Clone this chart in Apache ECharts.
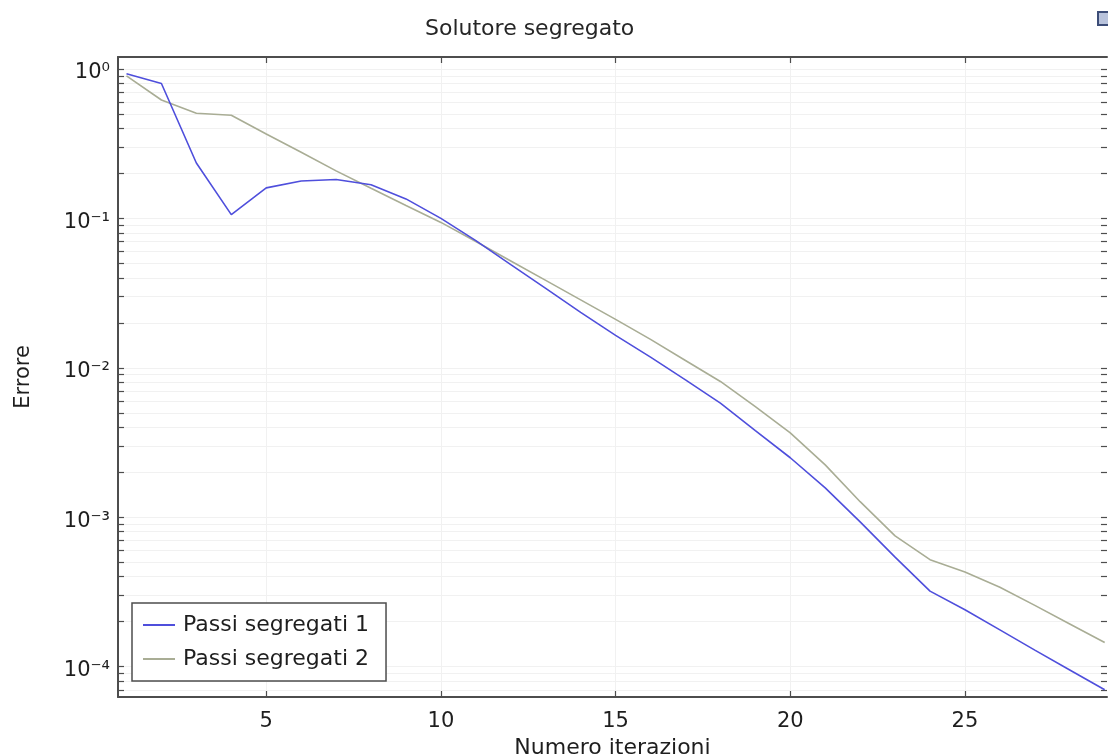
<!DOCTYPE html>
<html>
<head>
<meta charset="utf-8">
<script src="https://cdn.jsdelivr.net/npm/echarts@6/dist/echarts.min.js"></script>
<style>
  html, body { margin: 0; padding: 0; background: #ffffff; }
  #chart { width: 1108px; height: 754px; }
</style>
</head>
<body>
<div id="chart"></div>
<script>
// Iteration index of the segregated solver
const iterations = [1, 2, 3, 4, 5, 6, 7, 8, 9, 10, 11, 12, 13, 14, 15, 16, 17, 18, 19, 20, 21, 22, 23, 24, 25, 26, 27, 28, 29];

// Error per iteration, segregated step group 1
const passi1 = [0.93, 0.80, 0.235, 0.106, 0.16, 0.178, 0.182, 0.168, 0.135, 0.100, 0.071, 0.049, 0.034, 0.0235, 0.0165, 0.0118, 0.0083, 0.0058, 0.0038, 0.0025, 0.00157, 0.00093, 0.00054, 0.00032, 0.00024, 0.000176, 0.000129, 0.000095, 0.00007];

// Error per iteration, segregated step group 2
const passi2 = [0.90, 0.62, 0.505, 0.49, 0.367, 0.277, 0.208, 0.159, 0.122, 0.094, 0.070, 0.0519, 0.0385, 0.0285, 0.0211, 0.0155, 0.0112, 0.0081, 0.0055, 0.00367, 0.00224, 0.00127, 0.00075, 0.00052, 0.00043, 0.00034, 0.000257, 0.000193, 0.000145];

const seriesNames = ['Passi segregati 1', 'Passi segregati 2'];

// Tick positions
const xTickValues = [5, 10, 15, 20, 25];
const yDecades = [1e-4, 1e-3, 1e-2, 1e-1, 1];

// Log-axis ticks: every k * 10^e between the decades
const yTickValues = [];
for (let e = -5; e <= 0; e++) {
  for (let k = 1; k <= 9; k++) {
    yTickValues.push(+(k * Math.pow(10, e)).toPrecision(3));
  }
}

const FONT = 'DejaVu Sans';
const AXIS_COLOR = '#4d4d4d';
const TEXT_COLOR = '#1e1e1e';
const X_MIN = 0.757, X_MAX = 29.066;
const Y_MIN = 6.26e-5, Y_MAX = 1.203;

const sup = { '-': '\u207B', '0': '\u2070', '1': '\u00B9', '2': '\u00B2', '3': '\u00B3', '4': '\u2074', '5': '\u2075' };
function decadeLabel(v) {
  const e = Math.round(Math.log10(v));
  return '10' + String(e).split('').map(c => sup[c]).join('');
}

const pairs = vals => iterations.map((it, i) => [it, vals[i]]);

const chart = echarts.init(document.getElementById('chart'), null, { renderer: 'canvas' });

const baseX = {
  type: 'value', min: X_MIN, max: X_MAX,
  axisLine: { show: true, onZero: false, lineStyle: { color: AXIS_COLOR, width: 2 } },
  axisTick: { show: true, inside: true, length: 6, customValues: xTickValues, lineStyle: { color: AXIS_COLOR, width: 1.2 } },
  splitLine: { show: false }
};
const baseY = {
  type: 'log', logBase: 10, min: Y_MIN, max: Y_MAX,
  axisLine: { show: true, onZero: false, lineStyle: { color: AXIS_COLOR, width: 2 } },
  axisTick: { show: true, inside: true, length: 6, customValues: yTickValues, lineStyle: { color: AXIS_COLOR, width: 1.2 } },
  minorTick: { show: false },
  splitLine: { show: false }
};

chart.setOption({
  animation: false,
  backgroundColor: '#ffffff',
  title: {
    text: 'Solutore segregato',
    left: 425, top: 18, padding: 0,
    textStyle: { fontFamily: FONT, fontSize: 22, fontWeight: 'normal', color: '#262626' }
  },
  grid: { left: 118, right: 1, top: 57, bottom: 57, containLabel: false, outerBoundsMode: 'none' },
  legend: {
    data: seriesNames,
    orient: 'vertical',
    left: 132, top: 603,
    padding: [11, 17, 11, 11],
    itemGap: 12,
    itemWidth: 32, itemHeight: 2,
    icon: 'rect',
    backgroundColor: '#ffffff',
    borderColor: '#4d4d4d', borderWidth: 1.5, borderRadius: 0,
    textStyle: { fontFamily: FONT, fontSize: 22, color: TEXT_COLOR, padding: [0, 0, 0, 3] }
  },
  xAxis: [
    Object.assign({}, baseX, {
      position: 'bottom',
      name: 'Numero iterazioni', nameLocation: 'middle', nameGap: 38,
      nameTextStyle: { fontFamily: FONT, fontSize: 22, color: TEXT_COLOR },
      axisLabel: { show: true, customValues: xTickValues, margin: 14, fontFamily: FONT, fontSize: 21, color: TEXT_COLOR },
      splitLine: { show: true, lineStyle: { color: '#f1f1f1', width: 1 } }
    }),
    Object.assign({}, baseX, { position: 'top', axisLabel: { show: false } })
  ],
  yAxis: [
    Object.assign({}, baseY, {
      position: 'left',
      name: 'Errore', nameLocation: 'middle', nameGap: 84, nameRotate: 90,
      nameTextStyle: { fontFamily: FONT, fontSize: 21, color: TEXT_COLOR },
      axisLabel: {
        show: true, customValues: yDecades, margin: 8,
        verticalAlign: 'top', lineHeight: 8,
        fontFamily: FONT, fontSize: 21, color: TEXT_COLOR,
        formatter: v => decadeLabel(v)
      },
      splitLine: { show: true, lineStyle: { color: '#f1f1f1', width: 1 } }
    }),
    Object.assign({}, baseY, {
      position: 'right',
      axisLine: { show: false },
      axisLabel: { show: false }
    })
  ],
  series: [
    {
      name: seriesNames[0], type: 'line', xAxisIndex: 0, yAxisIndex: 0,
      data: pairs(passi1), symbol: 'none', smooth: false,
      lineStyle: { color: '#4f4fdc', width: 1.6 }, itemStyle: { color: '#4f4fdc' }, z: 3
    },
    {
      name: seriesNames[1], type: 'line', xAxisIndex: 0, yAxisIndex: 0,
      data: pairs(passi2), symbol: 'none', smooth: false,
      lineStyle: { color: '#a9ad95', width: 1.6 }, itemStyle: { color: '#a9ad95' }, z: 2
    }
  ],
  graphic: [
    {
      type: 'rect', left: 1097, top: 11,
      shape: { width: 11, height: 13 },
      style: { fill: '#b9c3dc', stroke: '#3d4d78', lineWidth: 2 }
    }
  ]
});
</script>
</body>
</html>
